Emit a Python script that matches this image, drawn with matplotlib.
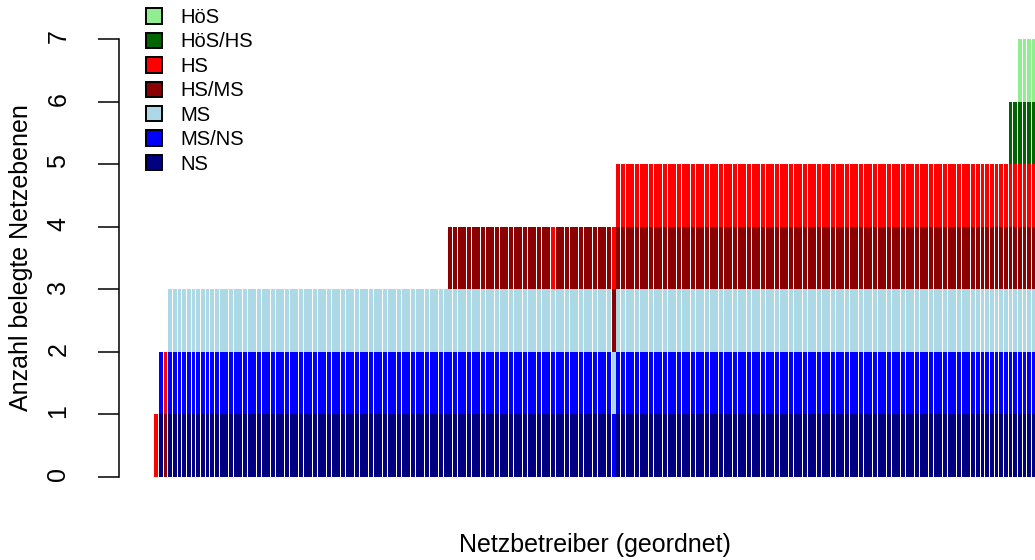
import matplotlib
matplotlib.use("Agg")
import matplotlib.pyplot as plt
from matplotlib.patches import Patch
import numpy as np

plt.rcParams['font.family'] = ['Liberation Sans', 'DejaVu Sans']

# Netzebenen von unten nach oben gestapelt
levels = ["NS", "MS/NS", "MS", "HS/MS", "HS", "HöS/HS", "HöS"]
level_colors = ["navy", "blue", "lightblue", "darkred", "red", "darkgreen", "lightgreen"]

# Netzbetreiber-Typen (belegte Ebenen) in der Reihenfolge der Sortierung
group_levels = [
    ["HS"],
    ["NS", "MS/NS"],
    ["HS/MS", "HS"],
    ["NS", "MS/NS", "MS"],
    ["NS", "MS/NS", "MS", "HS/MS"],
    ["NS", "MS/NS", "MS", "HS"],
    ["NS", "MS/NS", "MS", "HS/MS"],
    ["MS/NS", "MS", "HS/MS", "HS"],
    ["NS", "MS/NS", "MS", "HS/MS", "HS"],
    ["NS", "MS/NS", "MS", "HS/MS", "HS", "HöS/HS"],
    ["NS", "MS/NS", "MS", "HS/MS", "HS", "HöS/HS", "HöS"],
]
group_counts = [1, 1, 1, 60, 22, 1, 12, 1, 84, 2, 4]

# Matrix: Zeile = Ebene, Spalte = Netzbetreiber
operators = []
for lv, n in zip(group_levels, group_counts):
    operators += [lv] * n
N = len(operators)
presence = np.array([[1 if l in op else 0 for op in operators] for l in levels])

fig = plt.figure(figsize=(10.35, 5.6), dpi=100)
ax = fig.add_axes([119 / 1035, 66 / 560, 952 / 1035, 472.5 / 560])

x = 0.7 + 1.2 * np.arange(N)  # wie barplot() in R, space = 0.2
bottom = np.zeros(N)
for i, l in enumerate(levels):
    ax.bar(x, presence[i], width=1.0, bottom=bottom, color=level_colors[i],
           linewidth=0, antialiased=False)
    bottom += presence[i]

span = 1.2 * N - 0.2
ax.set_xlim(0.2 - 0.04 * span, 1.2 * N + 0.04 * span)
ax.set_ylim(-0.28, 7.28)

for s in ['top', 'right', 'bottom']:
    ax.spines[s].set_visible(False)
ax.spines['left'].set_bounds(0, 7)
ax.spines['left'].set_linewidth(1.1)
ax.set_xticks([])
ax.set_yticks(range(8))
ax.tick_params(axis='y', length=15, width=1.1, pad=20, labelsize=18, labelrotation=90)

ax.set_xlabel("Netzbetreiber (geordnet)", fontsize=18)
ax.xaxis.set_label_coords(0.5, -39 / 472.5)
ax.set_ylabel("Anzahl belegte Netzebenen", fontsize=18)
ax.yaxis.set_label_coords(-86 / 952, 0.5)

handles = [Patch(facecolor=c, edgecolor='black', linewidth=1.4) for c in level_colors][::-1]
fig.legend(handles, levels[::-1], loc='upper left', bbox_to_anchor=(146 / 1035, 1 - 8 / 560),
           frameon=False, fontsize=14.5, handlelength=0.8, handleheight=0.8,
           handletextpad=0.9, labelspacing=0.27, borderpad=0, borderaxespad=0)

fig.savefig("out.png", dpi=100)
